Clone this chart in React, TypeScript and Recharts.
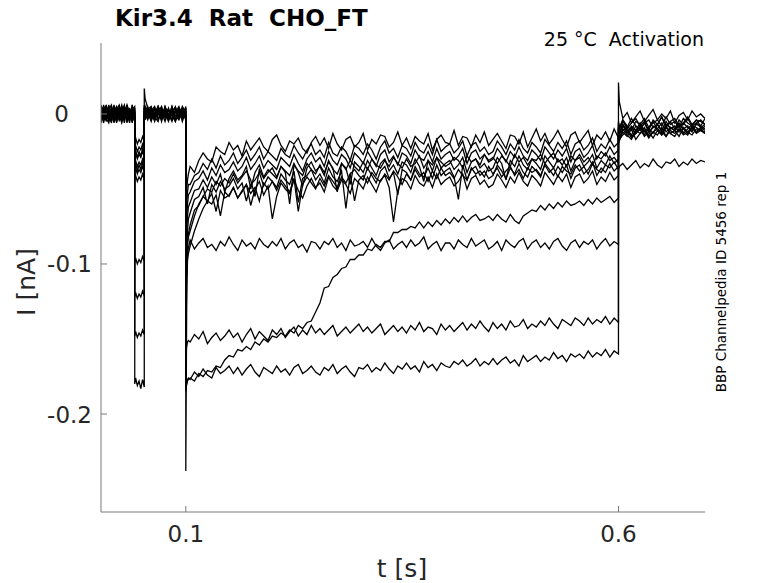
import React from 'react';
import { LineChart, Line, XAxis, YAxis } from 'recharts';

// sample times in ms (duplicated times give the vertical voltage-step edges)
const HOLD_MS = [2, 5, 8, 11, 14, 17, 20, 23, 26, 29, 32, 35, 38, 41];
const PRE_MS = [41, 42, 44, 46, 48, 50, 52];
const GAP_MS = [52, 53, 56, 60, 64, 68, 72, 76, 80, 84, 88, 92, 96, 100];
const TEST_MS = [
  100, 101, 102, 103,
  105, 110, 115, 120, 125, 130, 135, 140, 145, 150,
  155, 160, 165, 170, 175, 180, 185, 190, 195, 200,
  205, 210, 215, 220, 225, 230, 235, 240, 245, 250,
  255, 260, 265, 270, 275, 280, 285, 290, 295, 300,
  305, 310, 315, 320, 325, 330, 335, 340, 345, 350,
  355, 360, 365, 370, 375, 380, 385, 390, 395, 400,
  405, 410, 415, 420, 425, 430, 435, 440, 445, 450,
  455, 460, 465, 470, 475, 480, 485, 490, 495, 500,
  505, 510, 515, 520, 525, 530, 535, 540, 545, 550,
  555, 560, 565, 570, 575, 580, 585, 590, 595, 600,
];
const TAIL_MS = [
  600, 601,
  605, 610, 615, 620, 625, 630, 635, 640, 645, 650,
  655, 660, 665, 670, 675, 680, 685, 690, 695, 700,
];

// currents in pA, segments: hold | prepulse | gap | test | tail
const C1_PA = [
  4, -3, 6, -1, -5, 2, 5, -4, 1, -6, 3, 0, 5, -2,
  -18, -16, -20, -17, -19, -15, -18,
  17, 10, 4, 2, -3, 5, -1, 3, -4, 1, 4, -2, 2, 0,
  -62, -50, -44, -40,
  -35, -39, -31, -26, -30, -32, -22, -25, -27, -19,
  -24, -21, -28, -18, -24, -20, -16, -22, -25, -17,
  -14, -21, -25, -18, -20, -16, -23, -26, -19, -15,
  -21, -16, -23, -13, -20, -24, -17, -15, -22, -19,
  -13, -24, -17, -20, -14, -15, -22, -19, -12, -21,
  -16, -23, -15, -18, -20, -13, -24, -17, -14, -19,
  -20, -11, -21, -15, -16, -22, -14, -19, -12, -21,
  -17, -13, -18, -23, -14, -15, -20, -12, -22, -16,
  -10, -18, -13, -20, -16, -11, -17, -22, -14, -12,
  -19, -15, -11, -21, -14, -17, -12, -18, -10, -16,
  21, 8,
  -3, 1, -6, -2, 2, -5, -1, 3, -4, 0,
  -3, 2, -6, -1, 1, -4, 2, -2, 0, -3,
];
const C2_PA = [
  -5, 3, -2, 6, 0, -4, 4, -1, -6, 2, 5, -3, 1, -4,
  -23, -21, -25, -22, -24, -20, -23,
  3, 5, -2, 4, -4, 1, 5, -3, 2, 0, -5, 3, -1, 4,
  -75, -60, -52, -47,
  -47, -41, -39, -33, -37, -30, -36, -28, -34, -31,
  -26, -33, -29, -24, -31, -27, -22, -30, -25, -28,
  -31, -23, -27, -29, -21, -26, -30, -24, -20, -27,
  -24, -29, -19, -26, -28, -22, -25, -31, -21, -23,
  -27, -20, -24, -30, -22, -18, -26, -23, -29, -21,
  -23, -28, -19, -24, -26, -20, -27, -17, -25, -22,
  -20, -26, -23, -18, -28, -21, -19, -25, -22, -27,
  -25, -18, -22, -27, -20, -24, -17, -23, -26, -19,
  -22, -26, -17, -21, -25, -19, -23, -18, -27, -20,
  -18, -24, -21, -16, -25, -20, -23, -17, -22, -19,
  -5, -9,
  -4, -10, -6, -3, -8, -5, -11, -4, -7, -2,
  -9, -5, -3, -8, -6, -2, -7, -4, -8, -3,
];
const C3_PA = [
  2, -6, 4, 1, -3, 5, -2, 3, -5, 0, 6, -1, -4, 3,
  -28, -26, -30, -27, -29, -25, -28,
  -2, 4, 1, -5, 3, 0, -3, 5, -1, 2, -4, 4, 1, -2,
  -85, -70, -60, -54,
  -52, -45, -43, -38, -44, -36, -41, -34, -39, -37,
  -32, -38, -35, -29, -37, -33, -28, -36, -31, -34,
  -37, -29, -32, -35, -27, -33, -38, -30, -26, -32,
  -29, -35, -25, -31, -34, -27, -30, -36, -26, -29,
  -33, -25, -30, -35, -27, -24, -32, -28, -34, -26,
  -28, -33, -24, -29, -31, -25, -32, -23, -30, -27,
  -25, -31, -28, -23, -33, -26, -24, -30, -27, -32,
  -30, -23, -27, -32, -25, -29, -22, -28, -31, -24,
  -27, -31, -22, -26, -30, -24, -28, -23, -32, -25,
  -23, -29, -26, -21, -30, -25, -28, -22, -27, -24,
  -9, -12,
  -7, -13, -8, -11, -6, -12, -9, -5, -10, -13,
  -7, -9, -11, -6, -10, -8, -12, -6, -9, -7,
];
const C4_PA = [
  -2, 5, -4, 3, 6, -1, -5, 2, 4, -3, 1, -6, 3, 5,
  -33, -31, -35, -32, -34, -30, -33,
  4, 0, -4, 3, -2, 5, 1, -5, 3, -1, 2, -3, 5, 1,
  -95, -80, -68, -62,
  -59, -51, -50, -44, -49, -42, -47, -40, -52, -43,
  -38, -44, -41, -35, -50, -39, -34, -42, -37, -40,
  -43, -35, -38, -41, -33, -39, -48, -36, -32, -38,
  -35, -41, -31, -37, -40, -33, -36, -47, -32, -35,
  -39, -31, -36, -41, -33, -30, -38, -34, -40, -32,
  -34, -39, -30, -35, -45, -31, -38, -29, -36, -33,
  -31, -37, -34, -29, -39, -32, -30, -36, -33, -38,
  -36, -29, -33, -44, -31, -35, -28, -34, -37, -30,
  -33, -37, -28, -32, -36, -30, -34, -29, -38, -31,
  -29, -35, -32, -27, -36, -31, -34, -28, -33, -30,
  -13, -16,
  -11, -9, -15, -12, -8, -14, -10, -13, -7, -12,
  -15, -9, -11, -8, -13, -10, -7, -12, -9, -11,
];
const C5_PA = [
  6, 0, -3, -6, 3, 1, -2, 5, -1, 4, -5, 2, -3, 0,
  -38, -36, -40, -37, -39, -35, -38,
  -3, 2, 5, -1, 4, -4, 2, 0, -5, 3, 1, 5, -2, -1,
  -105, -90, -78, -70,
  -66, -57, -55, -49, -60, -47, -52, -45, -50, -48,
  -43, -50, -46, -58, -47, -44, -39, -48, -42, -45,
  -49, -40, -44, -47, -38, -59, -43, -41, -37, -44,
  -40, -46, -36, -42, -45, -38, -63, -40, -37, -41,
  -44, -36, -41, -46, -38, -35, -43, -39, -54, -37,
  -39, -44, -35, -40, -42, -36, -43, -34, -41, -38,
  -36, -42, -57, -34, -44, -37, -35, -41, -38, -43,
  -41, -34, -38, -43, -36, -40, -33, -39, -42, -35,
  -38, -42, -33, -37, -41, -35, -39, -34, -43, -36,
  -34, -40, -37, -32, -41, -36, -39, -33, -38, -35,
  -16, -18,
  -12, -15, -10, -17, -13, -11, -16, -12, -14, -9,
  -15, -11, -13, -10, -14, -12, -9, -13, -11, -12,
];
const C6_PA = [
  -4, 2, 5, -2, 1, -6, 3, 6, -3, -1, 4, -2, 0, -5,
  -43, -41, -45, -42, -44, -40, -44,
  5, -1, 2, -4, 0, 3, -5, 4, -2, 5, -3, 0, 2, -4,
  -115, -100, -88, -80,
  -74, -64, -61, -55, -58, -53, -65, -51, -56, -54,
  -49, -56, -52, -47, -61, -50, -45, -54, -48, -70,
  -55, -46, -50, -53, -44, -51, -56, -48, -43, -49,
  -46, -52, -42, -48, -51, -44, -47, -53, -43, -46,
  -50, -42, -47, -52, -44, -41, -49, -72, -51, -43,
  -45, -50, -41, -46, -48, -42, -49, -40, -47, -44,
  -42, -48, -45, -40, -50, -43, -41, -47, -44, -49,
  -47, -40, -44, -49, -42, -46, -39, -45, -48, -41,
  -44, -48, -39, -43, -47, -41, -45, -40, -49, -42,
  -40, -46, -43, -38, -47, -42, -45, -39, -44, -41,
  -9, -13,
  -7, -11, -14, -8, -10, -6, -12, -9, -7, -11,
  -5, -10, -8, -12, -6, -9, -11, -7, -8, -10,
];
const C7_PA = [
  1, -5, 0, 4, -4, 6, -1, -3, 5, 2, -2, 4, -6, 2,
  -26, -24, -29, -25, -28, -23, -27,
  1, -4, 3, 5, -3, 2, 4, -2, 0, -5, 3, 1, -3, 5,
  -100, -90, -85, -82,
  -78, -68, -60, -55, -50, -52, -45, -48, -43, -46,
  -40, -46, -42, -38, -44, -55, -37, -43, -39, -36,
  -42, -35, -39, -60, -34, -38, -41, -33, -37, -40,
  -34, -39, -32, -36, -52, -33, -37, -31, -35, -38,
  -32, -37, -30, -34, -36, -31, -35, -29, -33, -36,
  -30, -35, -33, -28, -36, -31, -34, -29, -32, -35,
  -33, -29, -31, -36, -28, -32, -30, -34, -27, -31,
  -29, -33, -28, -31, -35, -27, -32, -29, -34, -30,
  -31, -27, -33, -29, -26, -32, -30, -35, -28, -31,
  -27, -32, -29, -34, -28, -30, -26, -31, -29, -33,
  -7, -10,
  -5, -9, -3, -8, -11, -6, -4, -9, -7, -2,
  -8, -5, -10, -4, -7, -3, -8, -6, -4, -7,
];
const C8_PA = [
  -6, 4, 2, -5, 5, -3, 0, -2, 3, -4, 6, 1, -1, 4,
  -36, -33, -38, -34, -37, -32, -36,
  -4, 3, -1, 2, 5, -3, 0, 3, -4, 1, 5, -2, 4, -1,
  -120, -105, -97, -93,
  -88, -78, -70, -63, -58, -60, -54, -68, -52, -55,
  -49, -56, -51, -47, -53, -49, -58, -46, -50, -45,
  -51, -44, -48, -52, -43, -65, -47, -42, -46, -50,
  -43, -48, -41, -45, -49, -42, -46, -40, -58, -44,
  -41, -46, -39, -43, -45, -40, -44, -38, -42, -47,
  -40, -44, -37, -42, -39, -45, -38, -43, -36, -41,
  -39, -43, -37, -41, -44, -36, -40, -38, -42, -35,
  -40, -36, -42, -38, -35, -41, -37, -43, -36, -39,
  -37, -41, -34, -39, -36, -42, -35, -38, -40, -34,
  -38, -35, -40, -33, -37, -39, -34, -36, -32, -37,
  -15, -17,
  -14, -11, -16, -13, -10, -15, -12, -16, -11, -14,
  -9, -13, -15, -10, -12, -14, -9, -12, -10, -13,
];
const FLAT_PA = [
  5, 1, -4, 2, -2, 4, -6, 1, 6, -3, 0, 3, -5, 1,
  -99, -96, -100, -97, -99, -95, -98,
  2, -2, 4, -3, 1, 5, -4, 2, 3, -1, -5, 4, 0, 3,
  -238, -130, -95, -89,
  -84, -90, -86, -83, -89, -87, -91, -85, -88, -82,
  -87, -91, -84, -88, -86, -90, -83, -87, -89, -85,
  -88, -83, -90, -86, -84, -89, -87, -92, -85, -86,
  -90, -85, -87, -83, -89, -86, -91, -84, -88, -87,
  -85, -89, -83, -88, -91, -86, -84, -90, -87, -85,
  -89, -84, -88, -86, -82, -90, -87, -85, -91, -86,
  -86, -90, -84, -87, -89, -83, -88, -86, -84, -90,
  -88, -85, -91, -84, -87, -89, -85, -83, -90, -86,
  -84, -89, -86, -90, -85, -83, -88, -91, -86, -84,
  -89, -85, -87, -84, -90, -86, -83, -88, -85, -87,
  -6, -10,
  -4, -8, -11, -5, -7, -3, -9, -6, -4, -8,
  -2, -7, -5, -9, -3, -6, -8, -4, -5, -7,
];
const MID_PA = [
  -3, 6, -1, -4, 2, -5, 4, 0, -2, 5, -6, 2, 3, -1,
  -122, -119, -123, -120, -122, -118, -121,
  0, 5, -3, 1, -5, 3, 2, -2, 4, -4, 1, 3, -5, 2,
  -160, -155, -152, -151,
  -152, -147, -150, -145, -153, -149, -146, -151, -148, -144,
  -149, -146, -152, -147, -143, -150, -145, -148, -151, -144,
  -147, -143, -149, -145, -142, -148, -144, -147, -141, -146,
  -143, -147, -144, -141, -148, -145, -142, -146, -143, -140,
  -145, -142, -146, -143, -140, -147, -144, -141, -145, -142,
  -146, -141, -144, -139, -145, -142, -143, -147, -140, -144,
  -141, -145, -142, -139, -144, -140, -143, -138, -142, -145,
  -139, -143, -140, -144, -138, -142, -141, -137, -143, -140,
  -142, -138, -141, -136, -140, -143, -137, -139, -141, -136,
  -138, -141, -136, -140, -137, -139, -135, -140, -136, -139,
  -10, -14,
  -8, -12, -9, -13, -7, -11, -14, -8, -10, -6,
  -12, -9, -11, -7, -10, -13, -8, -9, -11, -8,
];
const LOW_PA = [
  3, -2, 5, 0, -6, 3, 1, -4, 2, 6, -3, -1, 4, -5,
  -148, -145, -149, -146, -148, -144, -147,
  6, 2, -1, 4, -2, -5, 3, 1, -3, 5, -1, -4, 2, -2,
  -185, -180, -177, -176,
  -177, -172, -175, -170, -174, -176, -169, -173, -171, -168,
  -173, -169, -174, -170, -167, -172, -175, -169, -171, -173,
  -168, -172, -170, -174, -169, -167, -173, -171, -168, -172,
  -174, -169, -171, -167, -173, -170, -168, -172, -175, -169,
  -170, -167, -172, -169, -171, -166, -170, -173, -168, -170,
  -166, -170, -168, -172, -165, -169, -167, -171, -166, -168,
  -169, -165, -167, -164, -168, -166, -163, -168, -165, -167,
  -163, -167, -164, -162, -166, -164, -168, -161, -165, -163,
  -161, -165, -162, -164, -159, -163, -161, -165, -160, -162,
  -160, -163, -158, -162, -159, -161, -157, -162, -158, -160,
  -12, -16,
  -10, -14, -17, -11, -13, -9, -15, -12, -10, -14,
  -8, -13, -11, -15, -9, -12, -14, -10, -11, -13,
];
const RISE_PA = [
  0, 4, -5, 3, -1, 5, -4, 2, 1, -2, 4, -5, 6, -3,
  -180, -176, -181, -178, -183, -177, -182,
  -5, 1, 3, -2, 4, 0, -3, 5, -1, 2, -4, 3, 1, -3,
  -182, -180, -178, -177,
  -176, -178, -173, -175, -171, -172, -168, -169, -164, -161,
  -162, -157, -158, -155, -157, -152, -154, -150, -152, -148,
  -149, -146, -148, -144, -146, -141, -143, -139, -138, -132,
  -126, -116, -115, -109, -107, -103, -102, -97, -97, -94,
  -94, -90, -91, -87, -89, -85, -85, -79, -79, -77,
  -77, -75, -76, -72, -76, -72, -75, -71, -74, -70,
  -73, -69, -72, -68, -72, -69, -67, -71, -70, -68,
  -71, -67, -70, -72, -67, -71, -73, -68, -66, -64,
  -65, -61, -64, -60, -63, -59, -62, -58, -61, -60,
  -58, -61, -57, -60, -56, -59, -57, -55, -59, -56,
  -37, -35,
  -33, -37, -34, -31, -36, -33, -35, -30, -34, -36,
  -32, -33, -30, -35, -32, -34, -30, -33, -31, -32,
];

const TRACES = [C1_PA, C2_PA, C3_PA, C4_PA, C5_PA, C6_PA, C7_PA, C8_PA, FLAT_PA, MID_PA, LOW_PA, RISE_PA];

const X_TICKS = [0.1, 0.6];
const Y_TICKS = [-0.2, -0.1, 0];

const TIME_MS = [...HOLD_MS, ...PRE_MS, ...GAP_MS, ...TEST_MS, ...TAIL_MS];

const toPoints = (pa: number[]) =>
  pa.slice(0, TIME_MS.length).map((v, i) => ({ t: TIME_MS[i] / 1000, v: v / 1000 }));

const AXIS = '#7a7a7a';
const INK = '#262626';
const FONT = 'DejaVu Sans, sans-serif';

const XTick = (props: any) => {
  const { x, y, payload } = props;
  return (
    <g>
      <line x1={x} x2={x} y1={y} y2={y - 6} stroke={AXIS} />
      <text x={x} y={y + 30} textAnchor="middle" fontSize={23} fill={INK} fontFamily={FONT}>
        {payload.value}
      </text>
    </g>
  );
};

const YTick = (props: any) => {
  const { x, y, payload } = props;
  const isZero = payload.value === 0;
  return (
    <g>
      <line x1={x} x2={x + 6} y1={y} y2={y} stroke={AXIS} />
      <text
        x={isZero ? x - 32 : x - 9}
        y={y + 8.5}
        textAnchor="end"
        fontSize={23}
        fill={INK}
        fontFamily={FONT}
      >
        {isZero ? '0' : payload.value.toFixed(1)}
      </text>
    </g>
  );
};

export default function App() {
  return (
    <div style={{ position: 'absolute', left: 0, top: 0, width: 778, height: 583, background: '#fff' }}>
      <LineChart width={778} height={583} margin={{ top: 43, right: 73, bottom: 41, left: 41 }}>
        <XAxis
          type="number"
          dataKey="t"
          domain={[0.002, 0.7]}
          ticks={X_TICKS}
          allowDataOverflow
          height={30}
          tickSize={0}
          tickMargin={0}
          tickLine={false}
          axisLine={{ stroke: AXIS }}
          tick={<XTick />}
        />
        <YAxis
          type="number"
          dataKey="v"
          domain={[-0.2653, 0.0473]}
          ticks={Y_TICKS}
          allowDataOverflow
          width={60}
          tickSize={0}
          tickMargin={0}
          tickLine={false}
          axisLine={{ stroke: AXIS }}
          tick={<YTick />}
        />
        {TRACES.map((pa, i) => (
          <Line
            key={i}
            data={toPoints(pa)}
            dataKey="v"
            type="linear"
            stroke="#000"
            strokeWidth={1.3}
            dot={false}
            activeDot={false}
            isAnimationActive={false}
          />
        ))}
      </LineChart>
      <svg
        width={778}
        height={583}
        style={{ position: 'absolute', left: 0, top: 0, pointerEvents: 'none' }}
      >
        <text x={115} y={26} fontSize={23} fontWeight="bold" fontFamily={FONT} fill="#000" style={{ whiteSpace: 'pre' }}>
          {'Kir3.4  Rat  CHO_FT'}
        </text>
        <text x={704} y={46} fontSize={19} textAnchor="end" fontFamily={FONT} fill="#000" style={{ whiteSpace: 'pre' }}>
          {'25 °C  Activation'}
        </text>
        <text
          transform="translate(726,282) rotate(-90)"
          fontSize={13.5}
          textAnchor="middle"
          fontFamily={FONT}
          fill="#000"
        >
          BBP Channelpedia ID 5456 rep 1
        </text>
        <text x={402} y={577} fontSize={25} textAnchor="middle" fontFamily={FONT} fill={INK}>
          t [s]
        </text>
        <text
          transform="translate(35,282) rotate(-90)"
          fontSize={25}
          textAnchor="middle"
          fontFamily={FONT}
          fill={INK}
        >
          I [nA]
        </text>
      </svg>
    </div>
  );
}
